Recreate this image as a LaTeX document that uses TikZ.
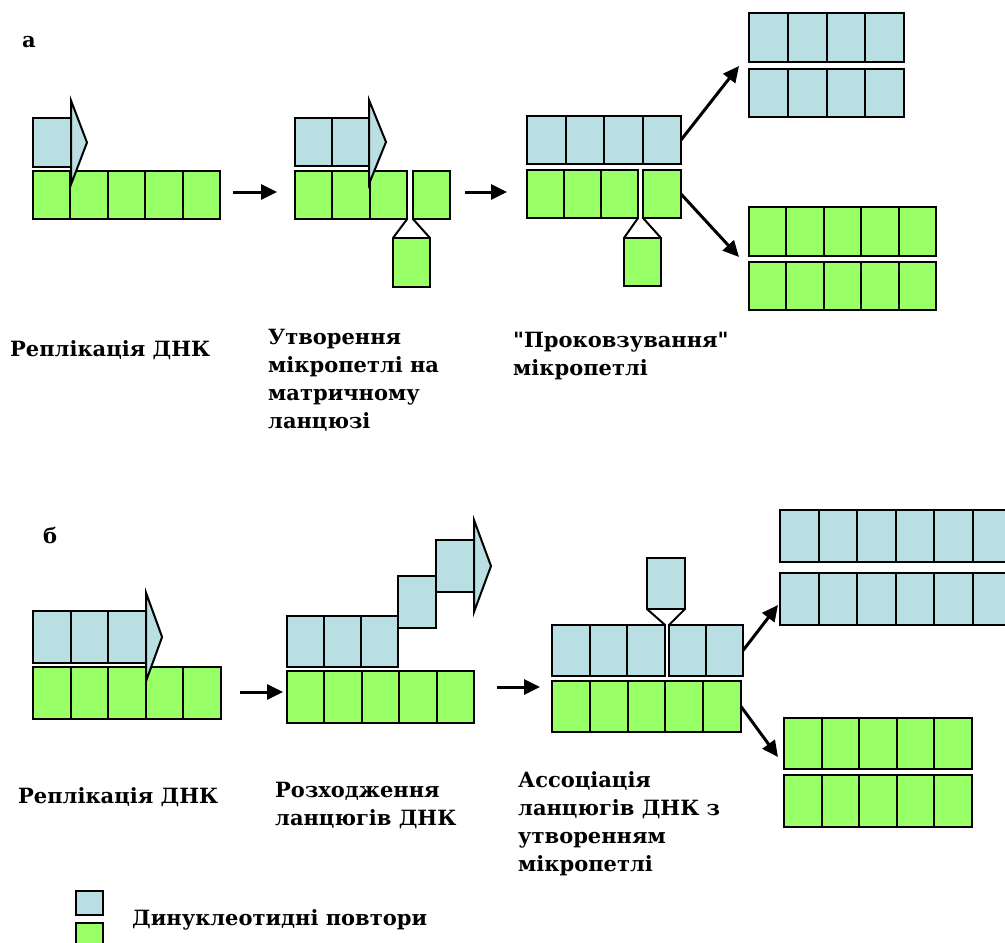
\documentclass[tikz,border=0pt]{standalone}
\usepackage{fontspec}
\setmainfont{DejaVu Serif}[Ligatures=TeXOff]
\usepackage{xcolor}
\usetikzlibrary{positioning,arrows.meta,calc}
\definecolor{repblue}{RGB}{185,223,227}
\definecolor{strandgreen}{RGB}{153,255,102}

\begin{document}
\begin{tikzpicture}[
  x=1pt, y=-1pt,
  cell/.style={rectangle, draw=black, line width=2pt, anchor=north west,
               inner sep=0pt, outer sep=0pt,
               minimum width=37.5pt, minimum height=48pt},
  bcell/.style={cell, fill=repblue},
  gcell/.style={cell, fill=strandgreen},
  tip/.style={draw=black, fill=repblue, line width=2pt, line join=miter},
  loopline/.style={black, line width=2pt},
  arr/.style={-{Triangle[length=16pt,width=15pt]}, line width=3pt, black},
  label/.style={font=\fontsize{21}{28}\selectfont\bfseries,
                anchor=base west, align=left, inner sep=0pt},
]
\clip (0,0) rectangle (1005,943);

% Panel a, step 1: replication
\node[label] (lbla) at (22,47) {а};
\node[bcell, minimum width=38pt, minimum height=49pt] (a1b1) at (33,118) {};
\foreach \i in {1,...,5}
  \node[gcell, minimum width=37.4pt] (a1g\i) at ({33+(\i-1)*37.4},171) {};
\draw[tip] ($(a1b1.east)+(0,-42)$) -- ($(a1b1.east)+(16,0)$) -- ($(a1b1.east)+(0,42)$) -- cycle;

% Panel a, step 2: loop on template strand
\foreach \i in {1,2}
  \node[bcell, minimum width=37pt] (a2b\i) at ({295+(\i-1)*37},118) {};
\foreach \i in {1,...,3}
  \node[gcell, minimum width=37.4pt] (a2g\i) at ({295+(\i-1)*37.4},171) {};
\node[gcell, minimum width=37pt] (a2g4) at (413,171) {};
\node[gcell, minimum width=37pt, minimum height=49pt] (a2loop) at (393,238) {};
\draw[loopline] (a2g3.south east) -- (a2loop.north west);
\draw[loopline] (a2g4.south west) -- (a2loop.north east);
\draw[tip] ($(a2b2.east)+(0,-42)$) -- ($(a2b2.east)+(17,0)$) -- ($(a2b2.east)+(0,42)$) -- cycle;

% Panel a, step 3: slipped loop
\foreach \i in {1,...,4}
  \node[bcell, minimum width=38.5pt] (a3b\i) at ({527+(\i-1)*38.5},116) {};
\foreach \i in {1,...,3}
  \node[gcell, minimum width=37pt] (a3g\i) at ({527+(\i-1)*37},170) {};
\node[gcell, minimum width=38pt] (a3g4) at (643,170) {};
\node[gcell, minimum width=37pt] (a3loop) at (624,238) {};
\draw[loopline] (a3g3.south east) -- (a3loop.north west);
\draw[loopline] (a3g4.south west) -- (a3loop.north east);

% Panel a, products
\foreach \i in {1,...,4} {
  \node[bcell, minimum width=38.75pt, minimum height=49pt] (pa\i) at ({749+(\i-1)*38.75},13) {};
  \node[bcell, minimum width=38.75pt] (pb\i) at ({749+(\i-1)*38.75},69) {};
}
\foreach \i in {1,...,5} {
  \node[gcell, minimum width=37.4pt, minimum height=49pt] (pc\i) at ({749+(\i-1)*37.4},207) {};
  \node[gcell, minimum width=37.4pt] (pd\i) at ({749+(\i-1)*37.4},262) {};
}
\coordinate (a3up) at (739,66);
\coordinate (a3down) at (739,257);

% Panel a, arrows
\draw[arr] ([xshift=13pt,yshift=3pt]a1g5.east) -- ([xshift=-18pt,yshift=3pt]a2g1.west);
\draw[arr] ([xshift=15pt,yshift=3pt]a2g4.east) -- ([xshift=-20pt,yshift=2pt]a3g1.west);
\draw[arr] (a3b4.east) -- (a3up);
\draw[arr] (a3g4.east) -- (a3down);

% Panel a, labels
\node[label] (lbla1) at (10,356) {Реплікація ДНК};
\node[label] (lbla2) at (268,428) {Утворення\\мікропетлі на\\матричному\\ланцюзі};
\node[label] (lbla3) at (513,375) {"Проковзування"\\мікропетлі};

% Panel b, step 1: replication
\node[label] (lblb) at (43,543) {б};
\foreach \i in {1,...,3}
  \node[bcell, minimum width=37.7pt, minimum height=52pt] (b1b\i) at ({33+(\i-1)*37.7},611) {};
\foreach \i in {1,...,5}
  \node[gcell, minimum width=37.6pt, minimum height=52pt] (b1g\i) at ({33+(\i-1)*37.6},667) {};
\draw[tip] ($(b1b3.east)+(0,-44)$) -- ($(b1b3.east)+(16,0)$) -- ($(b1b3.east)+(0,44)$) -- cycle;

% Panel b, step 2: strand separation
\foreach \i in {1,...,5}
  \node[gcell, minimum width=37.4pt, minimum height=52pt] (b2g\i) at ({287+(\i-1)*37.4},671) {};
\foreach \i in {1,...,3}
  \node[bcell, minimum width=37pt, minimum height=51pt] (b2b\i) at ({287+(\i-1)*37},616) {};
\node[bcell, minimum width=38pt, minimum height=52pt] (b2b4) at (398,576) {};
\node[bcell, minimum width=38pt, minimum height=52pt] (b2b5) at (436,540) {};
\draw[tip] ($(b2b5.east)+(0,-46)$) -- ($(b2b5.east)+(17,0)$) -- ($(b2b5.east)+(0,46)$) -- cycle;

% Panel b, step 3: reassociation with loop
\foreach \i in {1,...,3}
  \node[bcell, minimum width=37.7pt, minimum height=51pt] (b3b\i) at ({552+(\i-1)*37.7},625) {};
\foreach \i in {4,5}
  \node[bcell, minimum width=37pt, minimum height=51pt] (b3b\i) at ({669+(\i-4)*37},625) {};
\node[bcell, minimum width=38pt, minimum height=51pt] (b3loop) at (647,558) {};
\draw[loopline] (b3b3.north east) -- (b3loop.south west);
\draw[loopline] (b3b4.north west) -- (b3loop.south east);
\foreach \i in {1,...,5}
  \node[gcell, minimum width=37.8pt, minimum height=51pt] (b3g\i) at ({552+(\i-1)*37.8},681) {};

% Panel b, products
\foreach \i in {1,...,6} {
  \node[bcell, minimum width=38.5pt, minimum height=52pt] (qa\i) at ({780+(\i-1)*38.5},510) {};
  \node[bcell, minimum width=38.5pt, minimum height=52pt] (qb\i) at ({780+(\i-1)*38.5},573) {};
}
\foreach \i in {1,...,5} {
  \node[gcell, minimum width=37.6pt, minimum height=51pt] (qc\i) at ({784+(\i-1)*37.6},718) {};
  \node[gcell, minimum width=37.6pt, minimum height=52pt] (qd\i) at ({784+(\i-1)*37.6},775) {};
}
\coordinate (b3up) at (778,605);
\coordinate (b3down) at (778,757);

% Panel b, arrows
\draw[arr] ([xshift=19pt,yshift=1pt]b1g5.east) -- ([xshift=-4pt,yshift=5pt]b2g1.west);
\draw[arr] ([xshift=23pt,yshift=10pt]b2g5.east) -- ([xshift=-12pt,yshift=19.5pt]b3g1.west);
\draw[arr] (b3b5.east) -- (b3up);
\draw[arr] (b3g5.east) -- (b3down);

% Panel b, labels
\node[label] (lblb1) at (18,803) {Реплікація ДНК};
\node[label] (lblb2) at (275,825) {Розходження\\ланцюгів ДНК};
\node[label] (lblb3) at (518,871) {Ассоціація\\ланцюгів ДНК з\\утворенням\\мікропетлі};

% Legend
\node[bcell, minimum width=27pt, minimum height=24pt] (keyblue) at (76,891) {};
\node[gcell, minimum width=27pt, minimum height=24pt] (keygreen) at (76,923) {};
\node[label] (keytext) at (132,925) {Динуклеотидні повтори};

\end{tikzpicture}
\end{document}
